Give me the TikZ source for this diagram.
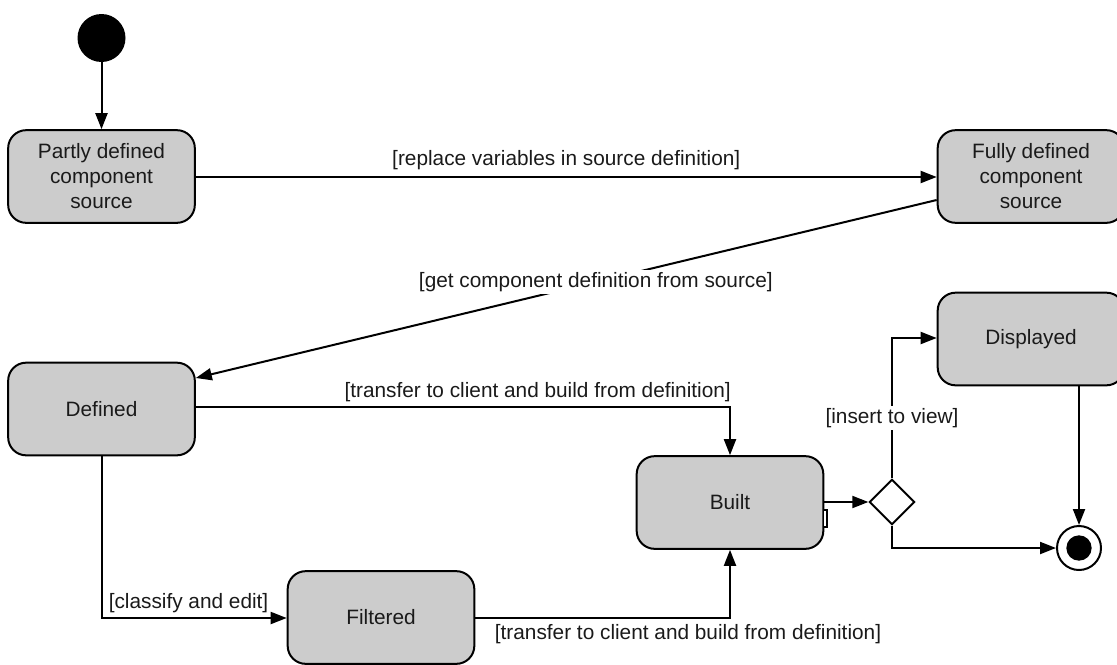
\documentclass[tikz,border=0pt]{standalone}
\usepackage{fontspec}
\setmainfont{Liberation Sans}
\usetikzlibrary{arrows.meta,shapes.geometric}
\definecolor{statefill}{HTML}{CCCCCC}
\definecolor{ink}{HTML}{1A1A1A}
\begin{document}
\begin{tikzpicture}[x=0.75pt,y=-0.75pt,
  font=\fontsize{15.6pt}{18.75pt}\selectfont,
  every node/.style={text=ink},
  statebox/.style={draw=black,fill=statefill,line width=1.5pt,rounded corners=13.5pt,
    minimum width=140pt,minimum height=69.5pt,align=center,inner sep=0pt},
  flow/.style={line width=1.5pt,-{Triangle[length=12pt,width=9pt]}},
  lbl/.style={fill=white,inner sep=1.5pt},
  lblfree/.style={inner sep=1.5pt}]
\useasboundingbox (0,0) rectangle (1117,664);

% states
\node[circle,fill=black,minimum size=36pt,inner sep=0pt] (init) at (101.5,38) {};
\node[statebox] (partly) at (101.5,176.5) {Partly defined\\component\\source};
\node[statebox] (fully) at (1031,176.5) {Fully defined\\component\\source};
\node[statebox] (defined) at (101.5,409) {Defined};
\node[statebox] (displayed) at (1031,339) {Displayed};
\node[statebox] (built) at (730,502.5) {Built};
\node[statebox] (filtered) at (381,617.5) {Filtered};
\node[diamond,draw=black,fill=white,line width=1.5pt,minimum size=34pt,inner sep=0pt] (choice) at (892,502) {};
\node[circle,draw=black,fill=white,line width=1.5pt,minimum size=33pt,inner sep=0pt] (final) at (1079,548) {};
\node[circle,fill=black,minimum size=19pt,inner sep=0pt] (finaldot) at (final.center) {};

% small port marker on the right edge of Built
\draw[line width=0.9pt,fill=white] (823.5,510) rectangle (827,527);

% helper points for the bends
\coordinate (dbend) at (730,407);
\coordinate (fbend) at (730,618);
\coordinate (cbend) at (101.5,618);
\coordinate (vbend) at (892,338);
\coordinate (ebend) at (892,548);

% transitions
\draw[flow] (init) -- (partly);
\draw[flow] (partly.east |- 0,177) -- node[lblfree,above=3pt] {[replace variables in source definition]} (fully.west |- 0,177);
\draw[flow] (fully.west |- 0,200) -- node[lbl,pos=0.46] {[get component definition from source]} (defined.east |- 0,378);
\draw[flow] (defined.east |- 0,407) -- node[lblfree,above=2pt,pos=0.64] {[transfer to client and build from definition]} (dbend) -- (built.north);
\draw[flow] (defined.south) -- (cbend) -- node[lblfree,above=2pt,pos=0.47] {[classify and edit]} (filtered.west |- cbend);
\draw[flow] (filtered.east |- 0,618) -- (fbend) -- (built.south);
\node[lblfree] (fblabel) at (688,634) {[transfer to client and build from definition]};
\draw[flow] (built.east |- choice) -- (choice.west);
\draw[flow] (choice.north) -- node[lbl,pos=0.43] {[insert to view]} (vbend) -- (displayed.west |- vbend);
\draw[flow] (choice.south) -- (ebend) -- (final.west);
\draw[flow] (displayed.south -| final) -- (final.north);
\end{tikzpicture}
\end{document}
